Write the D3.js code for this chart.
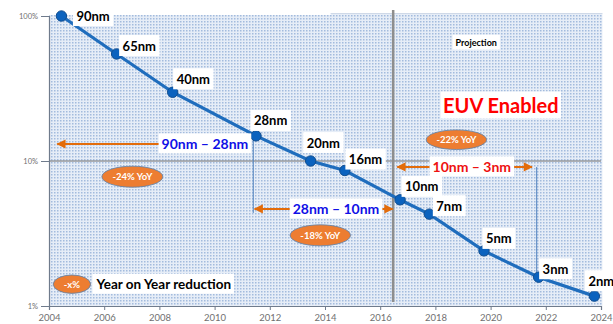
<!DOCTYPE html>
<html>
<head>
<meta charset="utf-8">
<script src="https://cdn.jsdelivr.net/npm/d3@7/dist/d3.min.js"></script>
<style>
  html, body { margin: 0; padding: 0; background: #ffffff; }
  svg { display: block; }
  text { font-family: Lato, "Open Sans", sans-serif; }
</style>
</head>
<body>
<svg id="chart" width="613" height="324"></svg>
<script>
// Process nodes, introduction year and relative cost (percent, log scale)
const nodes  = ["90nm", "65nm", "40nm", "28nm", "20nm", "16nm", "10nm", "7nm", "5nm", "3nm", "2nm"];
const years  = [2004.45, 2006.45, 2008.48, 2011.5, 2013.48, 2014.72, 2016.72, 2017.78, 2019.76, 2021.74, 2023.76];
const values = [100, 54.7, 29.8, 14.9, 10, 8.6, 5.4, 4.3, 2.4, 1.58, 1.17];

const xTicks = [2004, 2006, 2008, 2010, 2012, 2014, 2016, 2018, 2020, 2022, 2024];
const yTicks = [1, 10, 100];

// Reduction spans: label, start year, end year, level (%)
const spanLabels = ["90nm \u2013 28nm", "28nm \u2013 10nm", "10nm \u2013 3nm"];
const spanStart  = [2004.3, 2011.45, 2016.62];
const spanEnd    = [2011.3, 2016.45, 2021.5];
const spanLevel  = [13.1, 4.67, 9.1];

// Year-on-year reduction badges
const yoyLabels = ["-24% YoY", "-18% YoY", "-22% YoY"];
const projectionYear = 2016.47;

const svg = d3.select("#chart");
const W = 613, H = 324;
const m = { left: 49, right: 12, top: 16, bottom: 18 };

const x = d3.scaleLinear().domain([2004, 2024]).range([m.left, W - m.right]);
const y = d3.scaleLog().domain([1, 100]).range([H - m.bottom, m.top]);

// dotted fill of the plot area
const defs = svg.append("defs");
const pat = defs.append("pattern").attr("id", "dots")
  .attr("patternUnits", "userSpaceOnUse").attr("width", 3).attr("height", 3);
pat.append("rect").attr("width", 3).attr("height", 3).attr("fill", "#e6edf7");
pat.append("rect").attr("width", 1.5).attr("height", 1.5).attr("fill", "#a3bbdd");

defs.append("marker").attr("id", "arrowEnd")
  .attr("viewBox", "0 0 10 10").attr("refX", 9).attr("refY", 5)
  .attr("markerWidth", 5).attr("markerHeight", 4.6).attr("orient", "auto-start-reverse")
  .append("path").attr("d", "M0,0 L10,5 L0,10 Z").attr("fill", "#e36c0a");

svg.append("rect")
  .attr("x", x(2004)).attr("y", y(100) - 1)
  .attr("width", x(2024) - x(2004)).attr("height", y(1) - y(100) + 1)
  .attr("fill", "url(#dots)");
// projection panel
svg.append("rect")
  .attr("x", x(2014.21)).attr("y", y(100) - 3)
  .attr("width", x(2024.05) - x(2014.21)).attr("height", y(1) - y(100) + 3)
  .attr("fill", "url(#dots)");
svg.append("line")
  .attr("x1", x(2014.21)).attr("x2", x(2024.05))
  .attr("y1", y(100) - 2.5).attr("y2", y(100) - 2.5)
  .attr("stroke", "#cfd9e8").attr("stroke-width", 1);

// 10% gridline
svg.append("line")
  .attr("x1", x(2004)).attr("x2", x(2024))
  .attr("y1", y(10)).attr("y2", y(10))
  .attr("stroke", "#707070").attr("stroke-width", 1);

// axes
const xAxis = svg.append("g").attr("transform", `translate(0,${y(1)})`)
  .call(d3.axisBottom(x).tickValues(xTicks).tickFormat(d3.format("d")).tickSize(4).tickPadding(4));
const yAxis = svg.append("g").attr("transform", `translate(${x(2004)},0)`)
  .call(d3.axisLeft(y).tickValues(yTicks).tickFormat(d => d + "%").tickSize(8).tickPadding(3));
[xAxis, yAxis].forEach(g => {
  g.select(".domain").attr("stroke", "#6f7b8c").attr("stroke-width", 1.2);
  g.selectAll(".tick line").attr("stroke", "#6f7b8c");
  g.selectAll("text").attr("fill", "#707070").style("font-family", "Lato, sans-serif");
});
xAxis.selectAll("text").attr("font-size", 9.5);
yAxis.selectAll("text").attr("font-size", 7.5);

// projection divider
svg.append("line")
  .attr("x1", x(projectionYear)).attr("x2", x(projectionYear))
  .attr("y1", 10).attr("y2", y(1) - 4)
  .attr("stroke", "#8e8e8e").attr("stroke-width", 2.5);

// helper: text on a white box
function boxedText(g, tx, ty, str, size, color, anchor, padX, padY) {
  const grp = g.append("g");
  const r = grp.append("rect").attr("fill", "#ffffff");
  const t = grp.append("text").attr("x", tx).attr("y", ty)
    .attr("dy", "0.35em").attr("text-anchor", anchor || "start")
    .attr("font-size", size).attr("font-weight", 700).attr("fill", color).text(str);
  const b = t.node().getBBox();
  r.attr("x", b.x - padX).attr("y", b.y - padY)
   .attr("width", b.width + 2 * padX).attr("height", b.height + 2 * padY);
  return grp;
}

// guide lines from nodes
const guides = svg.append("g");
guides.append("line")
  .attr("x1", x(2011.4)).attr("x2", x(2011.4))
  .attr("y1", y(values[3])).attr("y2", y(spanLevel[1]) + 4)
  .attr("stroke", "#4f81bd").attr("stroke-width", 1);
guides.append("line")
  .attr("x1", x(2021.67)).attr("x2", x(2021.67))
  .attr("y1", y(spanLevel[2])).attr("y2", y(values[9]))
  .attr("stroke", "#4f81bd").attr("stroke-width", 1);

// span arrows
const spans = svg.append("g");
spanLabels.forEach((lab, i) => {
  spans.append("line")
    .attr("x1", x(spanStart[i])).attr("x2", x(spanEnd[i]))
    .attr("y1", y(spanLevel[i])).attr("y2", y(spanLevel[i]))
    .attr("stroke", "#e36c0a").attr("stroke-width", 2)
    .attr("marker-start", "url(#arrowEnd)").attr("marker-end", "url(#arrowEnd)");
});

// data line and points
const line = d3.line().x((d, i) => x(years[i])).y(d => y(d));
svg.append("path").datum(values)
  .attr("d", line).attr("fill", "none")
  .attr("stroke", "#1f6dbd").attr("stroke-width", 3.2);
svg.append("g").selectAll("circle").data(values).join("circle")
  .attr("cx", (d, i) => x(years[i])).attr("cy", d => y(d)).attr("r", 5.2)
  .attr("fill", "#0b62be").attr("stroke", "#124e8f").attr("stroke-width", 1);

// span labels
const spanColors = ["#1010e6", "#1010e6", "#ee1111"];
const spanMid = [2009.65, 2014.4, 2019.32];
spanLabels.forEach((lab, i) => {
  boxedText(svg, x(spanMid[i]), y(spanLevel[i]), lab, 14, spanColors[i], "middle", 3, 1.5);
});

// node labels
const labelDx = [15, 6, 4, -2, -4, 4, 5, 7, 2, 4, -6];
const labelDy = [0, -8, -13, -15, -18, -11, -13, -8, -12, -8, -15];
nodes.forEach((n, i) => {
  boxedText(svg, x(years[i]) + labelDx[i], y(values[i]) + labelDy[i], n, 13, "#000000", "start", 3.5, 2.5);
});

// headings
boxedText(svg, x(2020.37), 106, "EUV Enabled", 20, "#ff0000", "middle", 2.5, 1.5);
boxedText(svg, x(2019.48), 42.5, "Projection", 9, "#000000", "middle", 3, 2);

// YoY badges
function badge(cx, cy, rx, ry, str, size) {
  const g = svg.append("g");
  g.append("ellipse").attr("cx", cx).attr("cy", cy).attr("rx", rx).attr("ry", ry)
    .attr("fill", "#ed7d31").attr("stroke", "#5a7fa8").attr("stroke-width", 0.8);
  g.append("text").attr("x", cx).attr("y", cy).attr("dy", "0.35em")
    .attr("text-anchor", "middle").attr("font-size", size).attr("font-weight", 700)
    .attr("fill", "#ffffff").text(str);
}
badge(x(2007.02), 176.7, 30.5, 10.5, yoyLabels[0], 9.5);
badge(x(2013.83), 235.3, 30.2, 10.5, yoyLabels[1], 9.5);
badge(x(2018.76), 139.7, 30.2, 9.8, yoyLabels[2], 9.5);

// legend
badge(x(2004.83), 284.2, 18.7, 9.2, "-x%", 9.5);
boxedText(svg, x(2005.72), 284, "Year on Year reduction", 13.5, "#000000", "start", 3, 2);
</script>
</body>
</html>
